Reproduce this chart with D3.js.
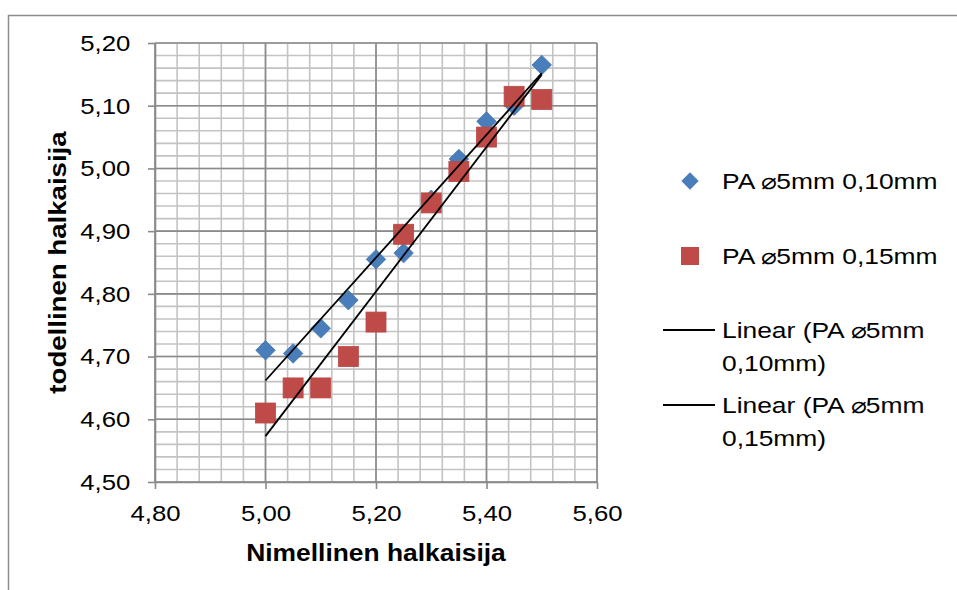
<!DOCTYPE html>
<html>
<head>
<meta charset="utf-8">
<script src="https://cdn.jsdelivr.net/npm/d3@7"></script>
<style>
  body { margin: 0; background: #fff; }
  text { font-family: "Liberation Sans", Arial, sans-serif; fill: #000; }
</style>
</head>
<body>
<script>
// nominal diameters (x) and measured diameters (y) for both series
const nominal = [5.00, 5.05, 5.10, 5.15, 5.20, 5.25, 5.30, 5.35, 5.40, 5.45, 5.50];
const measured010 = [4.71, 4.705, 4.745, 4.79, 4.855, 4.865, 4.95, 5.015, 5.075, 5.10, 5.165];
const measured015 = [4.61, 4.65, 4.65, 4.70, 4.755, 4.895, 4.945, 4.995, 5.05, 5.115, 5.11];
const seriesNames = ['PA \u23005mm 0,10mm', 'PA \u23005mm 0,15mm'];
const xTicks = [4.80, 5.00, 5.20, 5.40, 5.60];
const yTicks = [4.50, 4.60, 4.70, 4.80, 4.90, 5.00, 5.10, 5.20];

const width = 957;
const height = 590;
const marginTop = 43;
const marginRight = 360;
const marginBottom = 108;
const marginLeft = 155;

const fmt = (d) => d3.format('.2f')(d).replace('.', ',');

const svg = d3
  .select('body')
  .append('svg')
  .attr('width', width)
  .attr('height', height)
  .attr('viewBox', [0, 0, width, height]);

// outer chart border (runs off the right and bottom edge)
svg
  .append('rect')
  .attr('x', 8.5)
  .attr('y', 15.5)
  .attr('width', width + 20)
  .attr('height', height + 20)
  .attr('fill', 'none')
  .attr('stroke', '#8c8c8c')
  .attr('stroke-width', 1.5);

const x = d3.scaleLinear([4.8, 5.6], [marginLeft, width - marginRight]);
const y = d3.scaleLinear([4.5, 5.2], [height - marginBottom, marginTop]);

// minor grid
const xMinor = d3.range(0, 21).map((i) => 4.8 + i * 0.04);
const yMinor = d3.range(0, 36).map((i) => 4.5 + i * 0.02);
const grid = svg.append('g');
grid
  .selectAll('.vmin')
  .data(xMinor)
  .join('line')
  .attr('x1', (d) => x(d))
  .attr('x2', (d) => x(d))
  .attr('y1', y(4.5))
  .attr('y2', y(5.2))
  .attr('stroke', '#c3c3c3')
  .attr('stroke-width', 1.6);
grid
  .selectAll('.hmin')
  .data(yMinor)
  .join('line')
  .attr('x1', x(4.8))
  .attr('x2', x(5.6))
  .attr('y1', (d) => y(d))
  .attr('y2', (d) => y(d))
  .attr('stroke', '#c3c3c3')
  .attr('stroke-width', 1.6);

// major grid
grid
  .selectAll('.vmaj')
  .data(xTicks)
  .join('line')
  .attr('x1', (d) => x(d))
  .attr('x2', (d) => x(d))
  .attr('y1', y(4.5))
  .attr('y2', y(5.2))
  .attr('stroke', '#8a8a8a')
  .attr('stroke-width', 1.6);
grid
  .selectAll('.hmaj')
  .data(yTicks)
  .join('line')
  .attr('x1', x(4.8))
  .attr('x2', x(5.6))
  .attr('y1', (d) => y(d))
  .attr('y2', (d) => y(d))
  .attr('stroke', '#8a8a8a')
  .attr('stroke-width', 1.6);

// axes (labels slightly widened like the original rendering)
svg
  .append('g')
  .attr('transform', `translate(0,${height - marginBottom})`)
  .call(
    d3.axisBottom(x).tickValues(xTicks).tickFormat(fmt).tickSize(7).tickSizeOuter(0).tickPadding(16)
  )
  .call((g) => g.selectAll('line, path').attr('stroke', '#8a8a8a').attr('stroke-width', 1.6))
  .call((g) =>
    g.selectAll('text').style('font-size', '23px').attr('font-family', null).attr('transform', 'scale(1.12,1)')
  );

svg
  .append('g')
  .attr('transform', `translate(${marginLeft},0)`)
  .call(
    d3.axisLeft(y).tickValues(yTicks).tickFormat(fmt).tickSize(7).tickSizeOuter(0).tickPadding(15)
  )
  .call((g) => g.selectAll('line, path').attr('stroke', '#8a8a8a').attr('stroke-width', 1.6))
  .call((g) =>
    g.selectAll('text').style('font-size', '23px').attr('font-family', null).attr('transform', 'scale(1.12,1)')
  );

// axis titles
svg
  .append('text')
  .attr('transform', `translate(${(x(4.8) + x(5.6)) / 2},561) scale(1.1,1)`)
  .attr('text-anchor', 'middle')
  .style('font-size', '24px')
  .style('font-weight', 'bold')
  .text('Nimellinen halkaisija');

svg
  .append('text')
  .attr('transform', `translate(66,${(y(4.5) + y(5.2)) / 2}) rotate(-90) scale(1.15,1)`)
  .attr('text-anchor', 'middle')
  .style('font-size', '24px')
  .style('font-weight', 'bold')
  .text('todellinen halkaisija');

// points
const pts010 = nominal.map((n, i) => ({ x: n, y: measured010[i] }));
const pts015 = nominal.map((n, i) => ({ x: n, y: measured015[i] }));

const diamond = d3.symbol(d3.symbolSquare, 190);
svg
  .append('g')
  .selectAll('path')
  .data(pts010)
  .join('path')
  .attr('d', diamond)
  .attr('transform', (d) => `translate(${x(d.x)},${y(d.y)}) rotate(45)`)
  .attr('fill', '#4a7ebb')
  .attr('stroke', '#4677b3')
  .attr('stroke-width', 0.8);

svg
  .append('g')
  .selectAll('rect')
  .data(pts015)
  .join('rect')
  .attr('x', (d) => x(d.x) - 10)
  .attr('y', (d) => y(d.y) - 10)
  .attr('width', 20)
  .attr('height', 20)
  .attr('fill', '#be4b48')
  .attr('stroke', '#b84946')
  .attr('stroke-width', 0.8);

// linear trendlines (least squares over the data)
const fit = (pts) => {
  const mx = d3.mean(pts, (d) => d.x);
  const my = d3.mean(pts, (d) => d.y);
  const b =
    d3.sum(pts, (d) => (d.x - mx) * (d.y - my)) / d3.sum(pts, (d) => (d.x - mx) ** 2);
  const a = my - b * mx;
  const [x0, x1] = d3.extent(pts, (d) => d.x);
  return [
    [x0, a + b * x0],
    [x1, a + b * x1],
  ];
};
const line = d3
  .line()
  .x((d) => x(d[0]))
  .y((d) => y(d[1]));

[pts010, pts015].forEach((pts) => {
  svg
    .append('path')
    .attr('d', line(fit(pts)))
    .attr('fill', 'none')
    .attr('stroke', '#000')
    .attr('stroke-width', 1.8);
});

// Handmade legend
const lx = 690;
const tx = 722;
const legendText = (ly) =>
  svg
    .append('text')
    .attr('transform', `translate(${tx},${ly}) scale(1.2,1)`)
    .attr('dy', '0.36em')
    .style('font-size', '22px');

svg
  .append('path')
  .attr('d', d3.symbol(d3.symbolSquare, 150))
  .attr('transform', `translate(${lx},181) rotate(45)`)
  .attr('fill', '#4a7ebb');
legendText(181).text(seriesNames[0]);

svg
  .append('rect')
  .attr('x', lx - 9)
  .attr('y', 256 - 9)
  .attr('width', 18)
  .attr('height', 18)
  .attr('fill', '#be4b48');
legendText(256).text(seriesNames[1]);

[
  [330, seriesNames[0]],
  [405, seriesNames[1]],
].forEach(([ly, name]) => {
  svg
    .append('line')
    .attr('x1', 663)
    .attr('x2', 715)
    .attr('y1', ly)
    .attr('y2', ly)
    .attr('stroke', '#000')
    .attr('stroke-width', 1.8);
  const parts = name.split(' ');
  const t = legendText(ly);
  t.append('tspan').text(`Linear (${parts[0]} ${parts[1]}`);
  t.append('tspan').attr('x', 0).attr('dy', 33).text(`${parts[2]})`);
});
</script>
</body>
</html>
